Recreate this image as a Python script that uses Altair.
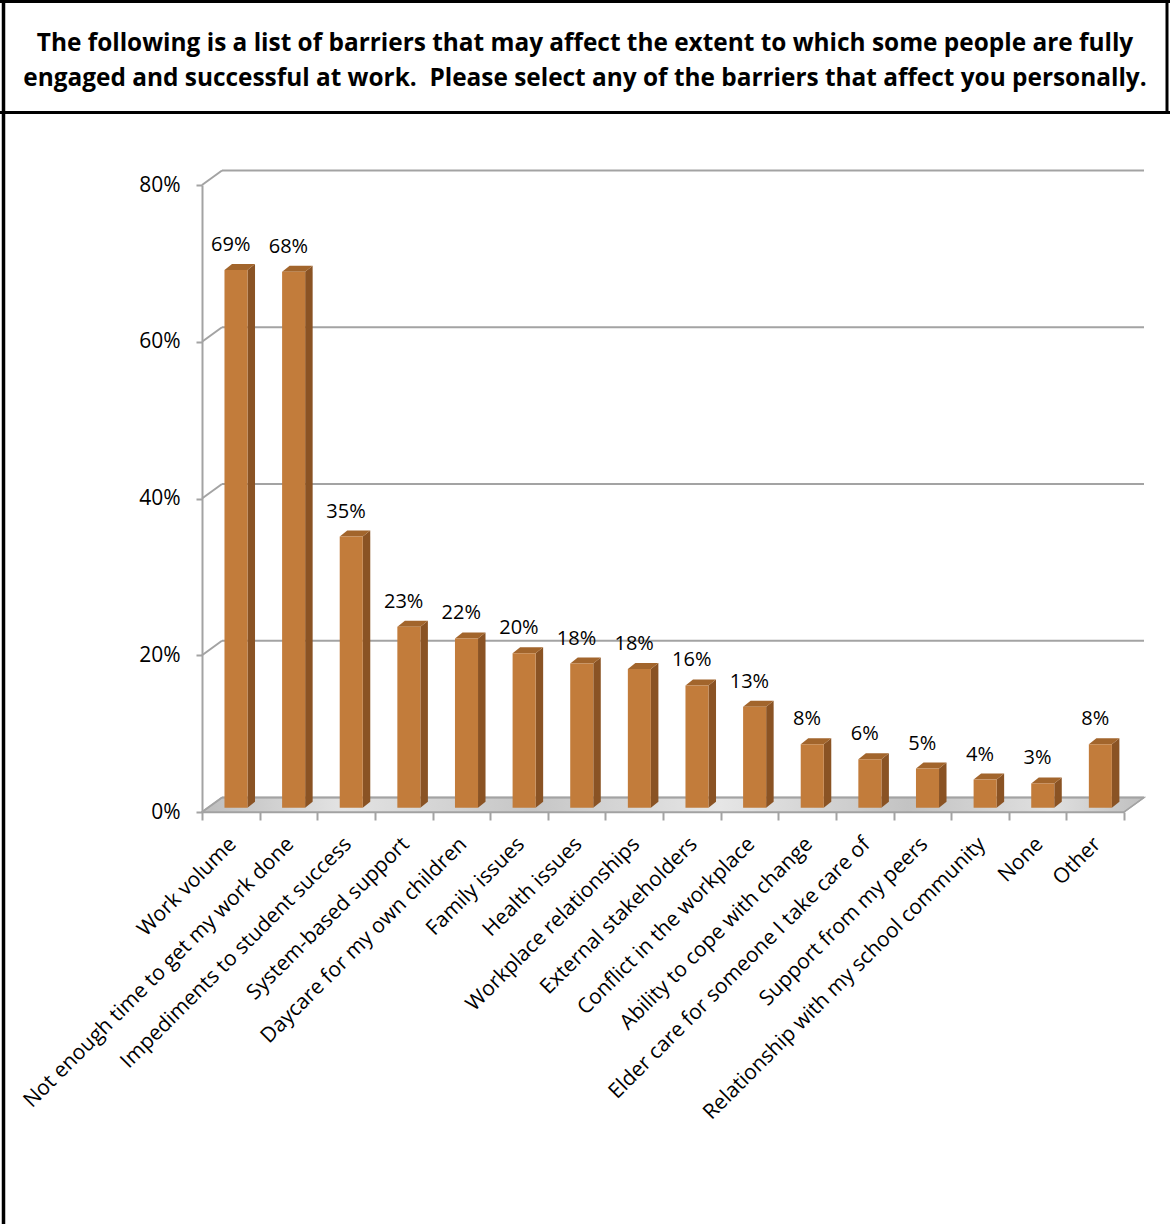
import json
import altair as alt
import pandas as pd

# ---------------- data ----------------
categories = [
    "Work volume",
    "Not enough time to get my work done",
    "Impediments to student success",
    "System-based support",
    "Daycare for my own children",
    "Family issues",
    "Health issues",
    "Workplace relationships",
    "External stakeholders",
    "Conflict in the workplace",
    "Ability to cope with change",
    "Elder care for someone I take care of",
    "Support from my peers",
    "Relationship with my school community",
    "None",
    "Other",
]
values = [68.6, 68.4, 34.6, 23.1, 21.6, 19.7, 18.4, 17.7, 15.6, 12.9, 8.1, 6.2, 5.0, 3.6, 3.1, 8.1]
y_ticks = [0, 20, 40, 60, 80]
title_lines = [
    "The following is a list of barriers that may affect the extent to which some people are fully",
    "engaged and successful at work.\u00a0 Please select any of the barriers that affect you personally.",
]

# ---------------- layout / style ----------------
W, H = 922, 627          # plot area
L, T = 202, 185          # plot origin inside 1170x1224 page
PAGE_W, PAGE_H = 1170, 1224
N = len(categories)
SX = W / N               # px per category unit
SY = H / 80              # px per percent
WALL_DX, WALL_DY = 20, 14.5
BAR_A, BAR_W = 0.39, 0.40
BAR_DX = 7.5 / SX
BAR_DY = 6 / SY
BAR_BASE = 4.25 / SY

GRID = "#A3A3A3"
FRONT = "#C27C3B"
SIDE = "#8A5324"
TOP = "#A2652C"
FONT = "Open Sans"

xs = alt.Scale(domain=[0, N], nice=False, zero=False)
ys = alt.Scale(domain=[0, 80], nice=False, zero=False)

label_expr = "datum.value < %d ? %s[datum.value] : ''" % (N, json.dumps(categories))
x_axis = alt.Axis(
    values=list(range(N + 1)), labelExpr=label_expr, title=None,
    labelOffset=SX / 2 - 6, labelAngle=315, labelAlign="right", labelBaseline="top",
    labelFont=FONT, labelFontSize=21, labelColor="#000000", labelPadding=13,
    labelOverlap=False, labelBound=False, labelFlush=False, labelLimit=0,
    domainColor=GRID, domainWidth=1.5, tickColor=GRID, tickWidth=2, tickSize=8,
    grid=False,
)
y_axis = alt.Axis(
    values=y_ticks, labelExpr="datum.value + '%'", title=None,
    labelFont=FONT, labelFontSize=21, labelColor="#000000", labelPadding=16,
    domainColor=GRID, domainWidth=2, tickColor=GRID, tickWidth=2, tickSize=6,
    grid=False,
)

def X(f):
    return alt.X(f, scale=xs, axis=x_axis)

def Y(f):
    return alt.Y(f, scale=ys, axis=y_axis)

# bar tables built from the arrays
bars = pd.DataFrame({"cat": categories, "v": values, "i": range(N)})
bars["x0"] = bars["i"] + BAR_A
bars["x1"] = bars["i"] + BAR_A + BAR_W
bars["y0"] = BAR_BASE
bars["y1"] = bars["v"] + BAR_BASE
bars["xc"] = bars["i"] + 0.5
bars["ylab"] = bars["v"] + BAR_BASE + BAR_DY

side_rows, top_rows = [], []
for _, r in bars.iterrows():
    for k in (0, 1):
        side_rows.append({"cat": r["cat"], "sx": r["x1"] + k * BAR_DX,
                          "sy": BAR_BASE + k * BAR_DY, "sy2": r["y1"] + k * BAR_DY})
        top_rows.append({"cat": r["cat"], "ty": r["y1"] + k * BAR_DY,
                         "tx": r["x0"] + k * BAR_DX, "tx2": r["x1"] + k * BAR_DX})
side = pd.DataFrame(side_rows)
top = pd.DataFrame(top_rows)

floor = pd.DataFrame({
    "fy": [0, WALL_DY / SY],
    "fx": [0, WALL_DX / SX],
    "fx2": [N, N + WALL_DX / SX],
})
grid = pd.DataFrame({"g": y_ticks})
one = pd.DataFrame({"d": [0]})

# ---------------- layers ----------------
floor_fill = alt.Chart(floor).mark_area(
    orient="horizontal",
    color=alt.Gradient(
        gradient="linear", x1=0, x2=1, y1=0, y2=0,
        stops=[
            alt.GradientStop(color="#BDBDBD", offset=0),
            alt.GradientStop(color="#E3E3E3", offset=0.15),
            alt.GradientStop(color="#C6C6C6", offset=0.35),
            alt.GradientStop(color="#E6E6E6", offset=0.55),
            alt.GradientStop(color="#C3C3C3", offset=0.75),
            alt.GradientStop(color="#E0E0E0", offset=0.9),
            alt.GradientStop(color="#BFBFBF", offset=1),
        ],
    ),
    stroke=GRID, strokeWidth=1.5,
).encode(
    y=Y("fy:Q"),
    x=X("fx:Q"),
    x2="fx2:Q",
)

back_grid = alt.Chart(grid).mark_rule(color=GRID, strokeWidth=2, yOffset=-WALL_DY).encode(
    y=Y("g:Q"),
    x=alt.value(WALL_DX),
    x2=alt.value(W + WALL_DX),
)

side_grid = alt.Chart(grid).mark_rule(color=GRID, strokeWidth=2, y2Offset=-WALL_DY).encode(
    y=Y("g:Q"),
    y2="g:Q",
    x=alt.value(0),
    x2=alt.value(WALL_DX),
)

floor_right = alt.Chart(one).mark_rule(color=GRID, strokeWidth=1.5, y2Offset=-WALL_DY).encode(
    y=Y("d:Q"),
    y2="d:Q",
    x=alt.value(W),
    x2=alt.value(W + WALL_DX),
)

bar_side = alt.Chart(side).mark_area(color=SIDE).encode(
    x=X("sx:Q"),
    y=Y("sy:Q"),
    y2="sy2:Q",
    detail="cat:N",
)

bar_top = alt.Chart(top).mark_area(color=TOP, orient="horizontal").encode(
    y=Y("ty:Q"),
    x=X("tx:Q"),
    x2="tx2:Q",
    detail="cat:N",
)

bar_front = alt.Chart(bars).mark_rect(color=FRONT).encode(
    x=X("x0:Q"),
    x2="x1:Q",
    y=Y("y0:Q"),
    y2="y1:Q",
)

labels = alt.Chart(bars).transform_calculate(
    lab="format(datum.v, '.0f') + '%'"
).mark_text(font=FONT, fontSize=20, color="#000000", dy=-13, baseline="alphabetic").encode(
    x=X("xc:Q"),
    y=Y("ylab:Q"),
    text="lab:N",
)

title_text = alt.Chart(one).mark_text(
    text=title_lines, font=FONT, fontSize=24.4, fontWeight="bold", color="#000000",
    align="center", baseline="middle", lineHeight=35,
).encode(
    x=alt.value(PAGE_W / 2 - L),
    y=alt.value(-T + 43.5),
)

# frame lines
def hline(y, x1, x2, w):
    return alt.Chart(one).mark_rule(color="#000000", strokeWidth=w).encode(
        y=alt.value(y), x=alt.value(x1), x2=alt.value(x2))

def vline(x, y1, y2, w):
    return alt.Chart(one).mark_rule(color="#000000", strokeWidth=w).encode(
        x=alt.value(x), y=alt.value(y1), y2=alt.value(y2))

frame = [
    hline(-T + 1.5, -L, PAGE_W - L, 3),
    hline(-T + 112.5, -L, PAGE_W - L, 3),
    vline(-L + 3.5, -T, PAGE_H - T, 3.5),
    vline(PAGE_W - L - 3, -T, -T + 113, 3),
]

chart = alt.layer(
    floor_fill, back_grid, side_grid, floor_right,
    bar_side, bar_top, bar_front, labels, title_text, *frame,
).properties(
    width=W, height=H,
    autosize=alt.AutoSizeParams(type="none"),
    padding={"left": L, "top": T, "right": PAGE_W - L - W, "bottom": PAGE_H - T - H},
).configure_view(stroke=None)

chart.save("out.html", embed_options={"renderer": "svg", "actions": False})
